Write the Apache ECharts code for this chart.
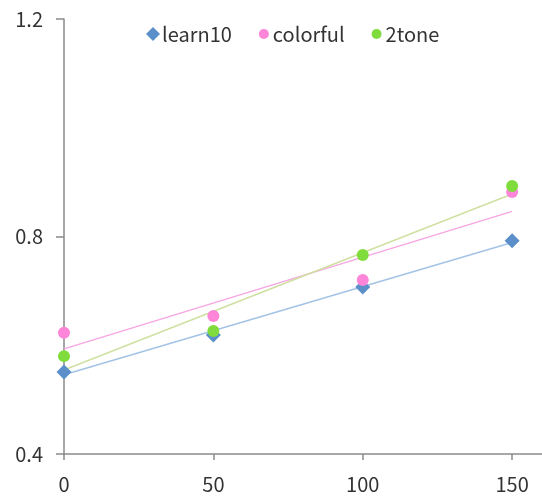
<!DOCTYPE html>
<html>
<head>
<meta charset="utf-8">
<script src="https://cdn.jsdelivr.net/npm/echarts@6/dist/echarts.min.js"></script>
<style>html,body{margin:0;padding:0;background:#fff}#c{width:542px;height:500px}</style>
</head>
<body>
<div id="c"></div>
<script>
var xValues = [0, 50, 100, 150];
var learn10 = [0.551, 0.619, 0.707, 0.792];
var colorful = [0.623, 0.654, 0.720, 0.882];
var twoTone = [0.580, 0.626, 0.766, 0.893];
var seriesNames = ['learn10', 'colorful', '2tone'];
var xTicks = [0, 50, 100, 150];
var yTicks = [0.4, 0.8, 1.2];

function pairs(ys) { return xValues.map(function (x, i) { return [x, ys[i]]; }); }
function trend(ys) {
  var n = xValues.length, mx = 0, my = 0;
  for (var i = 0; i < n; i++) { mx += xValues[i]; my += ys[i]; }
  mx /= n; my /= n;
  var sxy = 0, sxx = 0;
  for (i = 0; i < n; i++) { sxy += (xValues[i] - mx) * (ys[i] - my); sxx += (xValues[i] - mx) * (xValues[i] - mx); }
  var b = sxy / sxx, a = my - b * mx;
  var x0 = xValues[0], x1 = xValues[n - 1];
  return [[x0, a + b * x0], [x1, a + b * x1]];
}

var font = '"Noto Sans CJK JP", "Noto Sans", sans-serif';
var markerColors = ['#5b8fc9', '#ff85d8', '#7fdc3c'];
var trendColors = ['#a3c3e6', '#f7a6e3', '#cfe0a0'];
var symbols = ['diamond', 'circle', 'circle'];
// legend icons: small circle inside a 14x14 box (corner moves set the bounds)
var smallCircle = 'path://M0,0M14,14M2,7a5,5 0 1,0 10,0a5,5 0 1,0 -10,0z';
var legendIcons = ['diamond', smallCircle, smallCircle];
var allData = [learn10, colorful, twoTone];

var series = [];
allData.forEach(function (ys, i) {
  series.push({
    type: 'line', data: trend(ys), showSymbol: false, symbol: 'none', silent: true,
    lineStyle: { color: trendColors[i], width: 1.5 }, z: 1, legendHoverLink: false
  });
});
allData.forEach(function (ys, i) {
  series.push({
    name: seriesNames[i], type: 'scatter', data: pairs(ys), symbol: symbols[i],
    symbolSize: symbols[i] === 'diamond' ? 15 : 12,
    itemStyle: { color: markerColors[i], opacity: 1 }, z: 3
  });
});

var chart = echarts.init(document.getElementById('c'), null, { renderer: 'canvas' });
chart.setOption({
  animation: false,
  backgroundColor: '#fff',
  grid: { left: 64, right: 0, top: 19, bottom: 46 },
  legend: {
    data: seriesNames.map(function (n, i) { return { name: n, icon: legendIcons[i] }; }),
    top: 19, left: 141, itemWidth: 14, itemHeight: 14, itemGap: 25,
    textStyle: { fontFamily: font, fontSize: 20, color: '#333', padding: [4, 0, 0, -3] }
  },
  xAxis: {
    type: 'value', min: 0, max: 160, interval: 50,
    splitLine: { show: false },
    axisLine: { lineStyle: { color: '#8a8a8a', width: 1.5 }, onZero: false },
    axisTick: { show: true, length: 6, lineStyle: { color: '#8a8a8a', width: 1.5 }, customValues: xTicks },
    axisLabel: { customValues: xTicks, fontFamily: font, fontSize: 20, color: '#333', margin: 20 }
  },
  yAxis: {
    type: 'value', min: 0.4, max: 1.2, interval: 0.4,
    splitLine: { show: false },
    axisLine: { show: true, lineStyle: { color: '#8a8a8a', width: 1.5 } },
    axisTick: { show: true, length: 8, lineStyle: { color: '#8a8a8a', width: 1.5 } },
    axisLabel: { fontFamily: font, fontSize: 20, color: '#333', margin: 21,
      formatter: function (v) { return v.toFixed(1); } }
  },
  series: series
});
</script>
</body>
</html>
